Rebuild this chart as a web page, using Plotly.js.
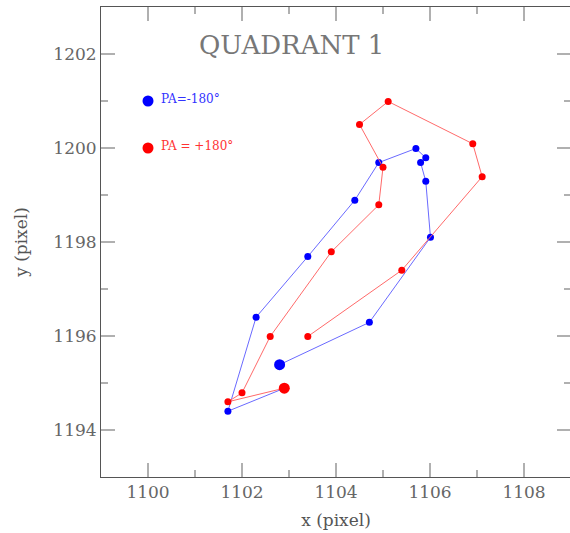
<!DOCTYPE html>
<html>
<head>
<meta charset="utf-8">
<script src="https://cdn.plot.ly/plotly-3.0.1.min.js"></script>
<style>html,body{margin:0;padding:0;overflow:hidden;background:#fff}</style>
</head>
<body>
<div id="chart"></div>
<script>
// Series PA = -180 deg (blue), first point is the start (large marker)
const bluePAm180_x = [1102.80, 1104.71, 1106.01, 1105.91, 1105.80, 1105.91, 1105.70, 1104.91, 1104.40, 1103.40, 1102.30, 1101.70, 1102.88];
const bluePAm180_y = [1195.39, 1196.29, 1198.10, 1199.29, 1199.69, 1199.79, 1199.99, 1199.69, 1198.89, 1197.69, 1196.40, 1194.40, 1194.88];
// Series PA = +180 deg (red)
const redPAp180_x = [1102.90, 1101.70, 1102.00, 1102.60, 1103.90, 1104.91, 1105.00, 1104.50, 1105.11, 1106.91, 1107.11, 1105.40, 1103.40];
const redPAp180_y = [1194.89, 1194.60, 1194.79, 1195.99, 1197.79, 1198.79, 1199.59, 1200.50, 1200.99, 1200.09, 1199.39, 1197.40, 1195.99];

const legendLabels = ["PA=-180°", "PA = +180°"];
const legendX = [1100, 1100];
const legendY = [1201, 1200];
const chartTitle = "QUADRANT 1";
const xTickVals = [1100, 1102, 1104, 1106, 1108];
const yTickVals = [1194, 1196, 1198, 1200, 1202];

const serif = "DejaVu Serif, Liberation Serif, serif";
const sizes = arr => arr.map((_, i) => i === 0 ? 11 : 7);

const lineTrace = (x, y, c) => ({x: x, y: y, type: 'scatter', mode: 'lines',
  line: {color: c, width: 1}, showlegend: false, hoverinfo: 'skip'});
const markTrace = (x, y, c) => ({x: x, y: y, type: 'scatter', mode: 'markers',
  marker: {color: c, size: sizes(x), opacity: 1, line: {width: 0}}, showlegend: false, hoverinfo: 'x+y'});

const traces = [
  lineTrace(bluePAm180_x, bluePAm180_y, '#6a6aff'),
  markTrace(bluePAm180_x, bluePAm180_y, '#0000ff'),
  lineTrace(redPAp180_x, redPAp180_y, '#ff6a6a'),
  markTrace(redPAp180_x, redPAp180_y, '#ff0000')
];

const colors = ['#0000ff', '#ff0000'];
const textColors = ['#3333ff', '#ff3333'];

const shapes = legendX.map((lx, i) => ({
  type: 'circle', xref: 'x', yref: 'y', xsizemode: 'pixel', ysizemode: 'pixel',
  xanchor: lx, yanchor: legendY[i], x0: -5.5, x1: 5.5, y0: -5.5, y1: 5.5,
  fillcolor: colors[i], line: {width: 0}
}));

const annotations = legendLabels.map((t, i) => ({
  x: legendX[i], y: legendY[i], xref: 'x', yref: 'y', text: t, showarrow: false,
  xanchor: 'left', yanchor: 'middle', xshift: 11, yshift: 2,
  font: {family: serif, size: 12, color: textColors[i]}
}));
annotations.push({
  x: 0.406, y: 0.92, xref: 'paper', yref: 'paper', text: chartTitle, showarrow: false,
  xanchor: 'center', yanchor: 'middle',
  font: {family: serif, size: 26, color: '#777777'}
});

const axisCommon = {
  showline: true, linecolor: '#555555', linewidth: 1, mirror: 'ticks',
  ticks: 'inside', ticklen: 14, tickwidth: 1.5, tickcolor: '#b0b0b0',
  showgrid: false, zeroline: false,
  tickfont: {family: serif, size: 17, color: '#666666'},
  minor: {ticks: 'inside', ticklen: 7, tickwidth: 1.5, tickcolor: '#b0b0b0', dtick: 1, showgrid: false}
};

const layout = {
  width: 572, height: 533,
  margin: {l: 101, r: 1, t: 7, b: 56},
  paper_bgcolor: '#ffffff', plot_bgcolor: '#ffffff',
  showlegend: false,
  xaxis: Object.assign({}, axisCommon, {
    range: [1099, 1109], tickvals: xTickVals, ticktext: xTickVals.map(String),
    title: {text: 'x (pixel)', font: {family: serif, size: 17, color: '#555555'}, standoff: 12}
  }),
  yaxis: Object.assign({}, axisCommon, {
    range: [1193, 1203], tickvals: yTickVals, ticktext: yTickVals.map(String),
    title: {text: 'y (pixel)', font: {family: serif, size: 17, color: '#555555'}, standoff: 21}
  }),
  shapes: shapes,
  annotations: annotations
};

Plotly.newPlot('chart', traces, layout, {displayModeBar: false, staticPlot: true});
</script>
</body>
</html>
